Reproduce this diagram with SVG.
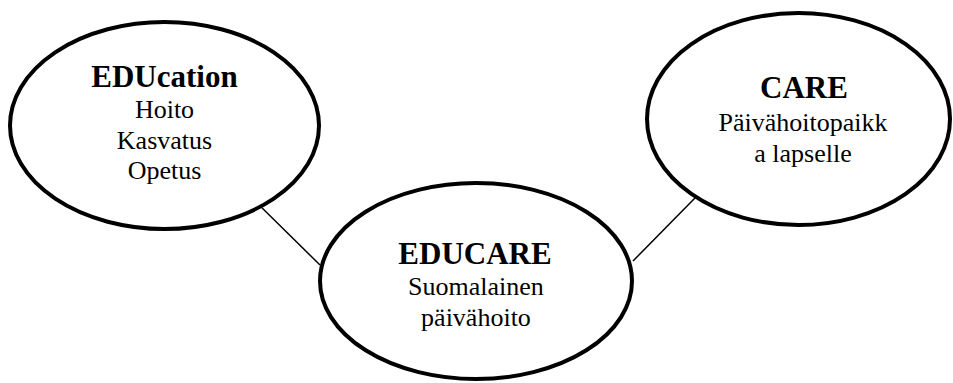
<svg xmlns="http://www.w3.org/2000/svg" width="953" height="383" viewBox="0 0 953 383">
<style>
.node{fill:#fff;stroke:#000;stroke-width:4}
.edge{stroke:#000;stroke-width:1.5;fill:none}
text{font-family:"Liberation Serif","DejaVu Serif",serif;text-anchor:middle;fill:#000}
.t{font-family:"Liberation Serif","DejaVu Serif",serif;font-weight:bold;font-size:31px}
.b{font-family:"Liberation Serif","DejaVu Serif",serif;font-weight:normal;font-style:normal;font-size:26px}
</style>
<rect width="953" height="383" fill="#fff"/>
<g id="connectors">
<line class="edge" x1="253" y1="199" x2="320" y2="265"/>
<line class="edge" x1="695" y1="198" x2="633" y2="261"/>
</g>
<g id="education">
<ellipse class="node" cx="164.5" cy="125.5" rx="154.5" ry="103.5"/>
<text class="t" x="164.5" y="86.5">EDUcation</text>
<text class="b" x="164.5" y="118">Hoito</text>
<text class="b" x="164.5" y="149">Kasvatus</text>
<text class="b" x="164.5" y="179">Opetus</text>
</g>
<g id="educare">
<ellipse class="node" cx="476" cy="281" rx="156" ry="98"/>
<text class="t" x="475" y="264">EDUCARE</text>
<text class="b" x="476" y="295">Suomalainen</text>
<text class="b" x="476" y="326">päivähoito</text>
</g>
<g id="care">
<ellipse class="node" cx="798.5" cy="119" rx="151.5" ry="106"/>
<text class="t" x="804" y="98">CARE</text>
<text class="b" x="803" y="131">Päivähoitopaikk</text>
<text class="b" x="803" y="162">a lapselle</text>
</g>
</svg>
